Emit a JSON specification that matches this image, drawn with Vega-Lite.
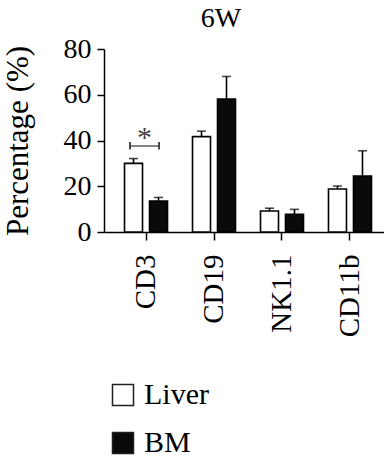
{
  "$schema": "https://vega.github.io/schema/vega-lite/v6.json",
  "autosize": "none",
  "width": 280,
  "height": 183,
  "padding": {"left": 104, "top": 49, "right": 0, "bottom": 227},
  "background": "white",
  "title": {"text": "6W", "font": "Liberation Serif", "fontSize": 28, "fontWeight": "normal", "color": "black", "anchor": "middle", "frame": "group", "dx": -23, "offset": 2},
  "config": {
    "view": {"stroke": null},
    "font": "Liberation Serif",
    "axis": {"grid": false, "domainColor": "black", "domainWidth": 1.5, "tickColor": "black", "tickWidth": 1.5, "labelColor": "black", "titleColor": "black", "labelFont": "Liberation Serif", "titleFont": "Liberation Serif"}
  },
  "datasets": {
    "bars": [
      {"marker": "CD3", "group": "Liver", "value": 30.0, "upper": 32.1},
      {"marker": "CD3", "group": "BM", "value": 13.5, "upper": 15.1},
      {"marker": "CD19", "group": "Liver", "value": 41.7, "upper": 44.1},
      {"marker": "CD19", "group": "BM", "value": 58.1, "upper": 68.0},
      {"marker": "NK1.1", "group": "Liver", "value": 9.2, "upper": 10.4},
      {"marker": "NK1.1", "group": "BM", "value": 7.7, "upper": 9.9},
      {"marker": "CD11b", "group": "Liver", "value": 18.8, "upper": 20.1},
      {"marker": "CD11b", "group": "BM", "value": 24.5, "upper": 35.5}
    ],
    "sig": [
      {"marker": "CD3", "y": 37.6, "ylo": 36.1, "yhi": 39.3, "ystar": 43.7, "label": "*"}
    ]
  },
  "encoding": {
    "x": {"field": "marker", "type": "nominal", "sort": ["CD3", "CD19", "NK1.1", "CD11b"],
      "scale": {"range": [0, 288], "paddingInner": 0, "paddingOuter": 0.118},
      "axis": {"title": null, "labelAngle": -90, "labelAlign": "right", "labelBaseline": "middle", "labelFontSize": 29, "labelPadding": 14, "tickSize": 8}}
  },
  "layer": [
    {
      "data": {"name": "bars"},
      "mark": {"type": "bar", "stroke": "black", "strokeWidth": 1.6},
      "encoding": {
        "xOffset": {"field": "group", "type": "nominal", "sort": ["Liver", "BM"], "scale": {"paddingInner": 0.28, "paddingOuter": 0.5}},
        "y": {"field": "value", "type": "quantitative",
          "scale": {"domain": [0, 80], "nice": false},
          "axis": {"values": [0, 20, 40, 60, 80], "title": "Percentage (%)", "titleFontSize": 31, "titleFontWeight": "normal", "labelFontSize": 28, "labelPadding": 6, "tickSize": 7, "titlePadding": 29}},
        "fill": {"field": "group", "type": "nominal", "sort": ["Liver", "BM"],
          "scale": {"domain": ["Liver", "BM"], "range": ["white", "#0a0a0a"]},
          "legend": {"title": null, "orient": "none", "legendX": 4, "legendY": 331, "symbolType": "square", "symbolSize": 441, "symbolStrokeColor": "#231f20", "symbolStrokeWidth": 1.5, "labelFont": "Liberation Serif", "labelFontSize": 30, "labelColor": "black", "rowPadding": 18, "labelOffset": 6}}
      }
    },
    {
      "data": {"name": "bars"},
      "mark": {"type": "rule", "color": "black", "strokeWidth": 1.6},
      "encoding": {
        "xOffset": {"field": "group", "type": "nominal", "sort": ["Liver", "BM"], "scale": {"paddingInner": 0.28, "paddingOuter": 0.5}},
        "y": {"field": "value", "type": "quantitative"},
        "y2": {"field": "upper"}
      }
    },
    {
      "data": {"name": "bars"},
      "mark": {"type": "tick", "color": "black", "thickness": 1.6, "size": 9, "orient": "horizontal"},
      "encoding": {
        "xOffset": {"field": "group", "type": "nominal", "sort": ["Liver", "BM"], "scale": {"paddingInner": 0.28, "paddingOuter": 0.5}},
        "y": {"field": "upper", "type": "quantitative"}
      }
    },
    {
      "data": {"name": "sig"},
      "mark": {"type": "tick", "color": "#222", "thickness": 1.6, "size": 29, "orient": "horizontal", "xOffset": -1.5},
      "encoding": {"y": {"field": "y", "type": "quantitative"}}
    },
    {
      "data": {"name": "sig"},
      "mark": {"type": "rule", "color": "#222", "strokeWidth": 1.6, "xOffset": -16},
      "encoding": {"y": {"field": "ylo", "type": "quantitative"}, "y2": {"field": "yhi"}}
    },
    {
      "data": {"name": "sig"},
      "mark": {"type": "rule", "color": "#222", "strokeWidth": 1.6, "xOffset": 13},
      "encoding": {"y": {"field": "ylo", "type": "quantitative"}, "y2": {"field": "yhi"}}
    },
    {
      "data": {"name": "sig"},
      "mark": {"type": "text", "font": "Liberation Serif", "fontSize": 30, "color": "#444", "baseline": "middle", "xOffset": -1.5, "dy": 6},
      "encoding": {"y": {"field": "ystar", "type": "quantitative"}, "text": {"field": "label"}}
    }
  ]
}
